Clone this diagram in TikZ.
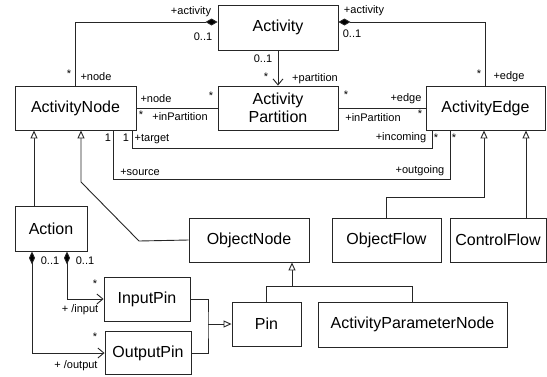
\documentclass[tikz,border=0pt]{standalone}
\usepackage{fontspec}
\setmainfont{Liberation Sans}
\usetikzlibrary{arrows.meta}
\begin{document}
\begin{tikzpicture}[x=1pt,y=-1pt,
  cls/.style={draw=black!85,line width=0.9pt,rectangle,inner sep=0pt,align=center,
    font=\fontsize{16}{18.5}\selectfont},
  lbl/.style={inner sep=0pt,font=\fontsize{11}{12}\selectfont},
  conn/.style={draw=black!85,line width=0.9pt},
  gen/.style={conn,-{Triangle[open,length=8,width=7,fill=white]}},
  nav/.style={conn,-{Straight Barb[length=6,width=10]}},
  compnav/.style={conn,{Diamond[length=13,width=6,fill=black]}-{Straight Barb[length=6,width=10]}},
  compA/.style={conn,{Diamond[length=12,width=7,fill=black]}-},
  compB/.style={conn,-{Diamond[length=12,width=7,fill=black]}}]
\useasboundingbox (0,0) rectangle (547,376);
% classes
\node[cls,minimum width=120,minimum height=45] (act) at (278,27.5) {Activity};
\node[cls,minimum width=121,minimum height=44] (an) at (75.5,108) {ActivityNode};
\node[cls,minimum width=120,minimum height=44] (ap) at (278,108) {Activity\\Partition};
\node[cls,minimum width=119,minimum height=44] (ae) at (485.5,108) {ActivityEdge};
\node[cls,minimum width=72,minimum height=45] (ac) at (51,228.5) {Action};
\node[cls,minimum width=120,minimum height=44] (on) at (249,240) {ObjectNode};
\node[cls,minimum width=109,minimum height=44] (of) at (386.5,240) {ObjectFlow};
\node[cls,minimum width=96,minimum height=44] (cf) at (498,240) {ControlFlow};
\node[cls,minimum width=86,minimum height=44] (ip) at (147,299) {InputPin};
\node[cls,minimum width=86,minimum height=43] (op) at (148,353) {OutputPin};
\node[cls,minimum width=69,minimum height=44] (pin) at (266.5,324) {Pin};
\node[cls,minimum width=189,minimum height=45] (apn) at (412.5,324.5) {ActivityParameterNode};
% helper coordinates
\coordinate (g1) at (81,182);
\coordinate (g2) at (139,241);
\coordinate (of1) at (484,197);
\coordinate (pj) at (292,286);
\coordinate (pinj) at (208,324);
% associations at top
\draw[compB] (an.north) |- (act.west |- 0,22);
\draw[compA] (act.east |- 0,22) -| (ae.north);
\draw[nav] (act.south) -- (ap.north);
\draw[conn] (an.east) -- (ap.west);
\draw[conn] (ap.east) -- (ae.west);
\draw[conn] (an.south -| 132,0) |- (432,148) -- (ae.south -| 432,0);
\draw[conn] (an.south -| 113,0) |- (450,179) -- (ae.south -| 450,0);
% generalizations
\draw[gen] (ac.north -| 34,0) -- (an.south -| 34,0);
\draw[gen] (on.west) -- (g2) -- (g1) -- (an.south -| g1);
\draw[gen] (of.north) |- (of1) -- (ae.south -| of1);
\draw[gen] (cf.north -| 526,0) -- (ae.south -| 526,0);
\draw[conn] (pin.north) |- (apn.north |- pj) -- (apn.north);
\draw[gen] (pj) -- (on.south -| pj);
\draw[conn] (ip.east) -| (pinj) |- (op.east);
\draw[gen] (pinj) -- (pin.west);
% action compositions
\draw[compnav] (ac.south -| 67,0) |- (ip.west);
\draw[compnav] (ac.south -| 32,0) |- (op.west);
% labels
\node[lbl] (l1) at (191,12) {+activity};
\node[lbl] (l2) at (203,37) {0..1};
\node[lbl] (l3) at (69,74) {*};
\node[lbl] (l4) at (96,77) {+node};
\node[lbl] (l5) at (263,59) {0..1};
\node[lbl] (l6) at (266,77) {*};
\node[lbl] (l7) at (315,79) {+partition};
\node[lbl] (l8) at (156,99) {+node};
\node[lbl] (l9) at (211,96) {*};
\node[lbl] (l10) at (141,115) {*};
\node[lbl] (l11) at (180,117) {+inPartition};
\node[lbl] (l12) at (346,95) {*};
\node[lbl] (l13) at (406,99) {+edge};
\node[lbl] (l14) at (420,114) {*};
\node[lbl] (l15) at (373,118) {+inPartition};
\node[lbl] (l16) at (364,11) {+activity};
\node[lbl] (l17) at (352,34) {0..1};
\node[lbl] (l18) at (479,74) {*};
\node[lbl] (l19) at (509,77) {+edge};
\node[lbl] (l20) at (108,138) {1};
\node[lbl] (l21) at (126,138) {1};
\node[lbl] (l22) at (152,139) {+target};
\node[lbl] (l23) at (140,172) {+source};
\node[lbl] (l24) at (401,138) {+incoming};
\node[lbl] (l25) at (436,138) {*};
\node[lbl] (l26) at (454,138) {*};
\node[lbl] (l27) at (420,171) {+outgoing};
\node[lbl] (l28) at (50,261) {0..1};
\node[lbl] (l29) at (85,261) {0..1};
\node[lbl] (l30) at (95,284) {*};
\node[lbl] (l31) at (80,310) {+ /input};
\node[lbl] (l32) at (95,337) {*};
\node[lbl] (l33) at (76,366) {+ /output};
\end{tikzpicture}
\end{document}
